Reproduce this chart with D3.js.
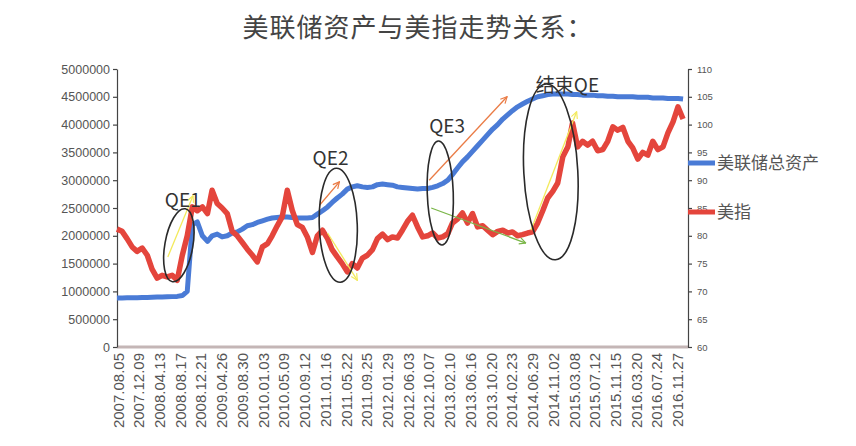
<!doctype html>
<html lang="zh">
<head>
<meta charset="utf-8">
<title>美联储资产与美指走势关系</title>
<style>
  body { margin: 0; background: #fff; }
  svg text { font-family: "Liberation Sans", Arial, sans-serif; }
  .cjk { font-family: "Noto Sans CJK SC", sans-serif; }
  .axis path, .axis line { stroke: #444; stroke-width: 1.2; }
  .axis text { fill: #555; }
</style>
</head>
<body>
<div id="vis"></div>
<script src="https://d3js.org/d3.v7.min.js"></script>
<script>
// monthly series, first value = Aug 2007
var startMonth = '2007-08-01';

// Fed total assets (left axis)
var fedAssets = [
  880000, 882000, 884000, 886000, 888000, 890000, 892000, 895000, 898000, 900000, 903000, 906000, 910000,
  925000, 1000000, 2200000, 2250000, 2000000, 1900000, 2000000, 2030000, 1980000, 2000000, 2050000,
  2070000, 2120000, 2180000, 2200000, 2240000, 2270000, 2300000, 2320000, 2330000, 2340000, 2340000,
  2330000, 2320000, 2320000, 2320000, 2330000, 2390000, 2450000, 2520000, 2600000, 2680000, 2750000,
  2840000, 2880000, 2900000, 2880000, 2870000, 2880000, 2920000, 2930000, 2920000, 2910000, 2880000,
  2870000, 2860000, 2850000, 2840000, 2850000, 2850000, 2870000, 2900000, 2940000, 3000000, 3100000,
  3220000, 3330000, 3420000, 3520000, 3620000, 3720000, 3820000, 3920000, 4000000, 4100000, 4180000,
  4250000, 4320000, 4370000, 4420000, 4460000, 4500000, 4520000, 4540000, 4550000,
  4550000, 4550000, 4550000, 4540000, 4540000, 4530000, 4530000, 4530000, 4520000, 4520000, 4510000,
  4510000, 4500000, 4500000, 4500000, 4500000, 4490000, 4490000, 4490000, 4480000, 4480000, 4480000,
  4470000, 4470000, 4470000, 4460000
];

// US dollar index (right axis)
var dollarIndex = [
  81.2, 80.8, 79.5, 78.0, 77.2, 77.8, 76.5, 74.0, 72.4, 72.9, 72.6, 72.9, 72.0,
  76.5, 80.0, 85.2, 84.5, 85.2, 84.0, 88.2, 85.8, 85.0, 84.0, 80.8,
  80.0, 78.8, 77.6, 76.5, 75.3, 78.0, 78.6, 80.0, 81.8, 83.4, 88.2,
  84.6, 82.0, 81.5, 79.8, 77.0, 80.0, 81.0, 79.5, 77.5, 76.2, 75.0,
  73.5, 75.0, 74.2, 76.0, 76.5, 77.5, 79.5, 80.3, 79.3, 79.8, 79.6,
  81.0, 82.6, 83.7, 81.6, 79.8, 80.0, 80.5, 79.6, 79.8, 80.4, 82.3,
  83.0, 84.1, 82.3, 84.0, 81.6, 81.8, 81.0, 80.2, 80.8, 81.0, 80.5,
  80.7, 80.0, 80.2, 80.5, 80.7, 82.3, 84.5, 86.8, 88.0,
  89.5, 94.2, 96.0, 100.3, 96.0, 97.0, 96.3, 97.0, 95.3, 95.5, 97.0,
  99.6, 99.0, 99.5, 97.0, 95.8, 93.8, 95.0, 94.5, 97.0, 95.5, 96.0,
  98.5, 100.5, 103.2, 101.0
];

var tickDates = [
  '2007.08.05', '2007.12.09', '2008.04.13', '2008.08.17', '2008.12.21', '2009.04.26', '2009.08.30',
  '2010.01.03', '2010.05.09', '2010.09.12', '2011.01.16', '2011.05.22', '2011.09.25', '2012.01.29',
  '2012.06.03', '2012.10.07', '2013.02.10', '2013.06.16', '2013.10.20', '2014.02.23', '2014.06.29',
  '2014.11.02', '2015.03.08', '2015.07.12', '2015.11.15', '2016.03.20', '2016.07.24', '2016.11.27'
];
var leftTicks = [0, 500000, 1000000, 1500000, 2000000, 2500000, 3000000, 3500000, 4000000, 4500000, 5000000];
var rightTicks = [60, 65, 70, 75, 80, 85, 90, 95, 100, 105, 110];

var seriesNames = ['美联储总资产', '美指'];
var title = '美联储资产与美指走势关系：';

// annotations: ellipses, labels, arrows (date, value on left axis)
var qeEllipses = [
  {date: '2008-08-11', value: 1830000, rx: 14, ry: 37, rot: 10},
  {date: '2011-04-07', value: 2190000, rx: 19, ry: 57, rot: -2},
  {date: '2012-12-17', value: 2770000, rx: 13, ry: 52, rot: -2},
  {date: '2014-10-20', value: 3150000, rx: 27, ry: 88, rot: -3}
];
var qeLabels = [
  {text: 'QE1', date: '2008-05-18', value: 2520000},
  {text: 'QE2', date: '2010-11-02', value: 3270000},
  {text: 'QE3', date: '2012-10-11', value: 3850000},
  {text: '结束QE', date: '2014-07-21', value: 4590000}
];
var qeArrows = [
  {from: ['2008-06-05', 1620000], to: ['2008-11-05', 2720000], color: '#f3ea5c'},
  {from: ['2010-12-14', 2550000], to: ['2011-04-14', 2970000], color: '#ea7b45'},
  {from: ['2011-02-01', 2050000], to: ['2011-08-01', 1200000], color: '#f3ea5c'},
  {from: ['2012-10-11', 3000000], to: ['2014-01-27', 4500000], color: '#ea7b45'},
  {from: ['2012-10-23', 2500000], to: ['2014-05-21', 1870000], color: '#7ab648'},
  {from: ['2014-06-21', 2100000], to: ['2015-03-26', 4230000], color: '#f3ea5c'}
];

var parse = d3.timeParse('%Y-%m-%d'),
    parseTick = d3.timeParse('%Y.%m.%d'),
    months = d3.timeMonth.range(parse(startMonth), d3.timeMonth.offset(parse(startMonth), fedAssets.length));

var fedData = months.map(function(m, i){ return {date: m, v: fedAssets[i]}; }),
    dxyData = months.map(function(m, i){ return {date: m, v: dollarIndex[i]}; });

var svg = d3.select('#vis').append('svg').attr('width', 856).attr('height', 446);

var x = d3.scaleTime().domain([parse('2007-08-01'), parse('2017-01-31')]).range([117, 688]),
    yL = d3.scaleLinear().domain([0, 5000000]).range([347, 69]),
    yR = d3.scaleLinear().domain([60, 110]).range([347, 69]);

var defs = svg.append('defs');
qeArrows.forEach(function(a, i){
  defs.append('marker').attr('id', 'arr' + i)
    .attr('viewBox', '0 0 10 10').attr('refX', 9).attr('refY', 5)
    .attr('markerWidth', 8).attr('markerHeight', 8).attr('markerUnits', 'userSpaceOnUse')
    .attr('orient', 'auto')
    .append('path').attr('d', 'M1,1 L9,5 L1,9').attr('fill', 'none')
    .attr('stroke', a.color).attr('stroke-width', 1.5);
});

// title
svg.append('text').attr('class', 'cjk').attr('x', 418).attr('y', 37)
  .attr('text-anchor', 'middle').style('font-size', '26px').style('letter-spacing', '1px')
  .style('fill', '#444').text(title);

// bottom zero line
svg.append('line').attr('x1', x.range()[0]).attr('x2', x.range()[1])
  .attr('y1', yL(0)).attr('y2', yL(0)).style('stroke', '#c4b6b6').style('stroke-width', 3);

// axes
svg.append('g').attr('class', 'axis').attr('transform', 'translate(117,0)')
  .call(d3.axisLeft(yL).tickValues(leftTicks).tickSize(4).tickSizeOuter(0).tickPadding(3).tickFormat(d3.format('d')))
  .selectAll('text').style('font-size', '12.5px');

svg.append('g').attr('class', 'axis').attr('transform', 'translate(688,0)')
  .call(d3.axisRight(yR).tickValues(rightTicks).tickSize(4).tickSizeOuter(0).tickPadding(5))
  .selectAll('text').style('font-size', '9.5px');

var xAxis = svg.append('g').attr('class', 'axis').attr('transform', 'translate(0,347)')
  .call(d3.axisBottom(x).tickValues(tickDates.map(parseTick)).tickSize(0).tickFormat(d3.timeFormat('%Y.%m.%d')));
xAxis.select('.domain').remove();
xAxis.selectAll('text').attr('transform', 'rotate(-90)').attr('x', -6).attr('y', 0).attr('dy', '0.36em')
  .style('text-anchor', 'end').style('font-size', '15px');

// series
var lineL = d3.line().x(function(d){ return x(d.date); }).y(function(d){ return yL(d.v); }),
    lineR = d3.line().x(function(d){ return x(d.date); }).y(function(d){ return yR(d.v); });

svg.append('path').datum(fedData).attr('d', lineL)
  .style('fill', 'none').style('stroke', '#4a7bd6').style('stroke-width', 5).style('stroke-linejoin', 'round');
svg.append('path').datum(dxyData).attr('d', lineR)
  .style('fill', 'none').style('stroke', '#e4453c').style('stroke-width', 5.5).style('stroke-linejoin', 'round');

// annotations
qeArrows.forEach(function(a, i){
  svg.append('line')
    .attr('x1', x(parse(a.from[0]))).attr('y1', yL(a.from[1]))
    .attr('x2', x(parse(a.to[0]))).attr('y2', yL(a.to[1]))
    .style('stroke', a.color).style('stroke-width', 1.3).attr('marker-end', 'url(#arr' + i + ')');
});

qeEllipses.forEach(function(e){
  var cx = x(parse(e.date)), cy = yL(e.value);
  svg.append('ellipse').attr('cx', cx).attr('cy', cy).attr('rx', e.rx).attr('ry', e.ry)
    .attr('transform', 'rotate(' + e.rot + ',' + cx + ',' + cy + ')')
    .style('fill', 'none').style('stroke', '#2a2a2a').style('stroke-width', 1.6);
});

qeLabels.forEach(function(l){
  svg.append('text').attr('class', 'cjk').attr('x', x(parse(l.date))).attr('y', yL(l.value))
    .style('font-size', '19px').style('fill', '#333').text(l.text);
});

// legend
var legend = svg.append('g').attr('transform', 'translate(688,0)');
[{name: seriesNames[0], color: '#4a7bd6', y: 163}, {name: seriesNames[1], color: '#e4453c', y: 212}].forEach(function(s){
  legend.append('line').attr('x1', 0).attr('x2', 27).attr('y1', s.y).attr('y2', s.y)
    .style('stroke', s.color).style('stroke-width', 5);
  legend.append('text').attr('class', 'cjk').attr('x', 29).attr('y', s.y).attr('dy', '0.36em')
    .style('font-size', '17px').style('fill', '#555').text(s.name);
});
</script>
</body>
</html>
